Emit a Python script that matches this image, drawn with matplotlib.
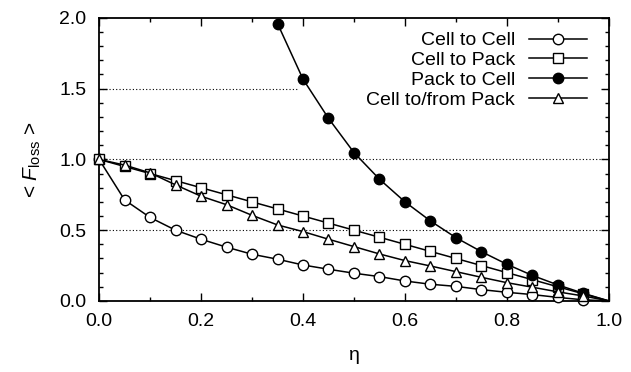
import matplotlib
matplotlib.use("Agg")
from matplotlib import pyplot as plt
from matplotlib.ticker import MultipleLocator

plt.rcParams['font.family'] = ['Liberation Sans', 'DejaVu Sans']
plt.rcParams['mathtext.fontset'] = 'custom'
plt.rcParams['mathtext.it'] = 'Liberation Sans:italic'
plt.rcParams['mathtext.rm'] = 'Liberation Sans'

eta = [0.0, 0.05, 0.1, 0.15, 0.2, 0.25, 0.3, 0.35, 0.4, 0.45, 0.5,
       0.55, 0.6, 0.65, 0.7, 0.75, 0.8, 0.85, 0.9, 0.95, 1.0]
cell_cell = [1.0, 0.714, 0.59, 0.50, 0.436, 0.38, 0.33, 0.295, 0.254, 0.224, 0.196,
             0.172, 0.141, 0.118, 0.103, 0.08, 0.061, 0.045, 0.025, 0.008, 0.0]
cell_pack = [1.0, 0.95, 0.9, 0.85, 0.8, 0.75, 0.7, 0.65, 0.6, 0.55, 0.5,
             0.45, 0.4, 0.35, 0.3, 0.25, 0.2, 0.15, 0.1, 0.05, 0.0]
eta_pc = [0.35, 0.4, 0.45, 0.5, 0.55, 0.6, 0.65, 0.7, 0.75, 0.8, 0.85, 0.9, 0.95, 1.0]
pack_cell = [1.96, 1.567, 1.29, 1.048, 0.86, 0.70, 0.565, 0.447, 0.348, 0.259, 0.18, 0.113, 0.054, 0.0]
cell_from_pack = [1.0, 0.96, 0.905, 0.82, 0.74, 0.68, 0.605, 0.537, 0.49, 0.436, 0.384,
                  0.332, 0.285, 0.247, 0.207, 0.167, 0.129, 0.097, 0.064, 0.035, 0.0]

fig = plt.figure(figsize=(6.31, 3.72), dpi=100)
ax = fig.add_axes([0.157, 0.191, 0.808, 0.761])

ms = 7.5
ax.plot(eta, cell_cell, '-o', color='k', lw=1.1, mfc='white', mec='k', mew=1, ms=ms,
        markevery=list(range(len(eta) - 1)), label='Cell to Cell', clip_on=False, zorder=3)
ax.plot(eta, cell_pack, '-s', color='k', lw=1.1, mfc='white', mec='k', mew=1, ms=ms - 0.5,
        markevery=list(range(len(eta) - 1)), label='Cell to Pack', clip_on=False, zorder=3)
ax.plot(eta_pc, pack_cell, '-o', color='k', lw=1.1, mfc='k', mec='k', ms=ms,
        markevery=list(range(len(eta_pc) - 1)), label='Pack to Cell', clip_on=False, zorder=3)
ax.plot(eta, cell_from_pack, '-^', color='k', lw=1.1, mfc='white', mec='k', mew=1, ms=ms,
        markevery=list(range(len(eta) - 1)), label='Cell to/from Pack', clip_on=False, zorder=3)

# dotted grid; the 1.5 line is hidden behind the key box
grid_kw = dict(color='k', lw=0.8, ls=(0, (1, 2)), zorder=1)
ax.axhline(0.5, **grid_kw)
ax.axhline(1.0, **grid_kw)
ax.axhline(1.5, xmax=0.388, **grid_kw)
ax.axhline(1.5, xmin=0.988, **grid_kw)

ax.set_xlim(0, 1)
ax.set_ylim(0, 2)
ax.xaxis.set_major_locator(MultipleLocator(0.2))
ax.xaxis.set_minor_locator(MultipleLocator(0.1))
ax.yaxis.set_major_locator(MultipleLocator(0.5))
ax.yaxis.set_minor_locator(MultipleLocator(0.1))
ax.xaxis.set_major_formatter(plt.FormatStrFormatter('%.1f'))
ax.yaxis.set_major_formatter(plt.FormatStrFormatter('%.1f'))
ax.tick_params(which='both', direction='in', top=True, right=True, labelsize=14, width=1)
ax.tick_params(which='major', length=6)
ax.tick_params(which='minor', length=3)
ax.tick_params(axis='x', which='major', pad=9)
ax.tick_params(axis='y', which='major', pad=9)
for s in ax.spines.values():
    s.set_linewidth(1.3)

ax.set_xlabel('η', fontsize=14, labelpad=12)
ax.set_ylabel(r'< $F_{\mathrm{loss}}$ >', fontsize=15, labelpad=12)

leg = ax.legend(loc='upper right', bbox_to_anchor=(0.957, 0.951), markerfirst=False,
                frameon=False, fontsize=14, handlelength=3.0, labelspacing=0.12,
                borderpad=0, handletextpad=0.7, borderaxespad=0)
leg.set_zorder(2)

fig.savefig('out.png', dpi=100)
